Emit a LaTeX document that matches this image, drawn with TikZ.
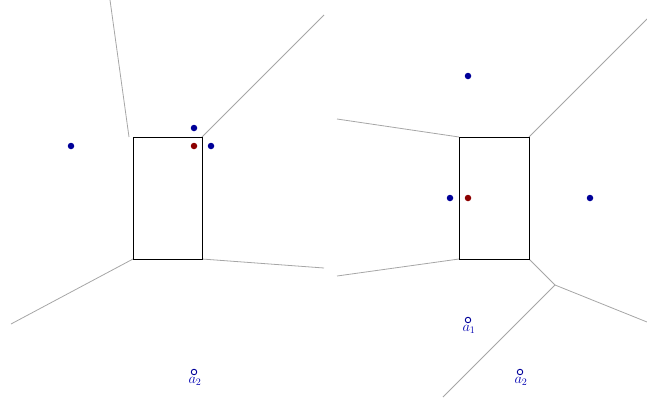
\documentclass[tikz,border=0pt]{standalone}
\begin{document}
\begin{tikzpicture}[x=1pt,y=-1pt,
  vline/.style={draw=black!35, line width=0.8pt},
  box/.style={draw=black, line width=0.85pt},
  site/.style={circle, fill=blue!60!black, inner sep=0pt, minimum size=6.5pt},
  rsite/.style={circle, fill=red!55!black, inner sep=0pt, minimum size=6.5pt},
  hsite/.style={circle, draw=blue!60!black, fill=white, line width=0.9pt, inner sep=0pt, minimum size=5.5pt},
  lab/.style={text=blue!70!black, inner sep=0pt, font=\Large}]
\useasboundingbox (0,0) rectangle (647,397);
% ---- left panel ----
\coordinate (L1) at (133,137); \coordinate (L2) at (202,137);
\coordinate (L3) at (202,259); \coordinate (L4) at (133,259);
\draw[vline] (129,137) -- (110,0);
\draw[vline] (L2) -- (324,15);
\draw[vline] (L3) -- (324,268);
\draw[vline] (L4) -- (11,324);
\draw[box] (L1) rectangle (L3);
\node[site] (lp1) at (71,146) {};
\node[site] (lp2) at (194,128) {};
\node[rsite] (lq) at (194,146) {};
\node[site] (lp3) at (211,146) {};
\node[hsite] (la2) at (194,372) {};
\node[lab] (la2t) at (195,381) {$a_2$};
% ---- right panel ----
\coordinate (R1) at (459,137); \coordinate (R2) at (529,137);
\coordinate (R3) at (529,259); \coordinate (R4) at (459,259);
\coordinate (V) at (555,285);
\draw[vline] (337,119) -- (R1);
\draw[vline] (R2) -- (647,19);
\draw[vline] (R4) -- (337,276);
\draw[vline] (R3) -- (V);
\draw[vline] (V) -- (647,322);
\draw[vline] (V) -- (443,397);
\draw[box] (R1) rectangle (R3);
\node[site] (rp1) at (468,76) {};
\node[site] (rp2) at (450,198) {};
\node[rsite] (rq) at (468,198) {};
\node[site] (rp3) at (590,198) {};
\node[hsite] (ra1) at (468,320) {};
\node[lab] (ra1t) at (469,329) {$a_1$};
\node[hsite] (ra2) at (520,372) {};
\node[lab] (ra2t) at (521,381) {$a_2$};
\end{tikzpicture}
\end{document}
